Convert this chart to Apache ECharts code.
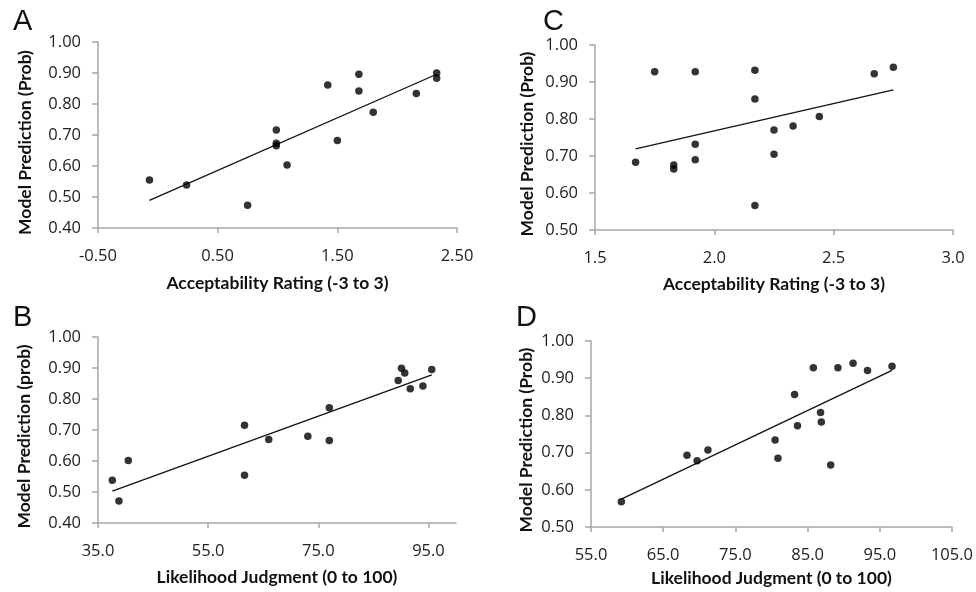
<!DOCTYPE html>
<html><head><meta charset="utf-8">
<script src="https://cdn.jsdelivr.net/npm/echarts@6/dist/echarts.min.js"></script>
<style>html,body{margin:0;padding:0;background:#fff}#c{width:976px;height:592px}</style>
</head><body><div id="c"></div>
<script>
// Panel A: Acceptability rating vs model prediction
const aX = [-0.07, 0.24, 0.75, 0.99, 0.99, 0.99, 1.08, 1.42, 1.50, 1.68, 1.68, 1.80, 2.16, 2.33, 2.33];
const aY = [0.555, 0.539, 0.473, 0.716, 0.673, 0.665, 0.603, 0.861, 0.682, 0.896, 0.842, 0.773, 0.834, 0.900, 0.883];
const aTrendX = [-0.07, 2.33];
const aTrendY = [0.489, 0.896];
const aXTicks = [-0.5, 0.5, 1.5, 2.5];
// Panel B: Likelihood judgment vs model prediction
const bX = [37.6, 38.8, 40.5, 61.6, 61.6, 66.0, 73.1, 77.0, 77.0, 89.5, 90.1, 90.7, 91.7, 94.0, 95.6];
const bY = [0.538, 0.471, 0.602, 0.715, 0.554, 0.669, 0.680, 0.772, 0.666, 0.860, 0.899, 0.884, 0.833, 0.842, 0.895];
const bTrendX = [37.6, 95.6];
const bTrendY = [0.503, 0.878];
const bXTicks = [35, 55, 75, 95];
// Panel C
const cX = [1.67, 1.75, 1.83, 1.83, 1.92, 1.92, 1.92, 2.17, 2.17, 2.17, 2.25, 2.25, 2.33, 2.44, 2.67, 2.75];
const cY = [0.683, 0.928, 0.676, 0.665, 0.928, 0.732, 0.690, 0.932, 0.854, 0.566, 0.770, 0.705, 0.781, 0.807, 0.922, 0.940];
const cTrendX = [1.67, 2.75];
const cTrendY = [0.719, 0.879];
const cXTicks = [1.5, 2.0, 2.5, 3.0];
// Panel D
const dX = [59.2, 68.3, 69.7, 71.2, 80.5, 80.9, 83.2, 83.6, 85.8, 86.8, 86.9, 88.2, 89.2, 91.3, 93.3, 96.7];
const dY = [0.568, 0.693, 0.678, 0.707, 0.734, 0.685, 0.856, 0.772, 0.928, 0.808, 0.782, 0.667, 0.928, 0.940, 0.921, 0.932];
const dTrendX = [59.2, 96.7];
const dTrendY = [0.575, 0.921];
const dXTicks = [55, 65, 75, 85, 95, 105];

const yTicksLow = [0.4, 0.5, 0.6, 0.7, 0.8, 0.9, 1.0];
const yTicksHigh = [0.5, 0.6, 0.7, 0.8, 0.9, 1.0];

const panels = [
  {letter:'A', xs:aX, ys:aY, tx:aTrendX, ty:aTrendY, xt:aXTicks, xmin:-0.5, xmax:2.5, xdec:2, yt:yTicksLow, ymin:0.4,
   xname:'Acceptability Rating (-3 to 3)', yname:'Model Prediction (Prob)',
   grid:{left:98, top:42, width:359, height:186}, yNameX:25, yNameY:142.5, xGap:46, lx:8, ly:2},
  {letter:'C', xs:cX, ys:cY, tx:cTrendX, ty:cTrendY, xt:cXTicks, xmin:1.5, xmax:3.0, xdec:1, yt:yTicksHigh, ymin:0.5,
   xname:'Acceptability Rating (-3 to 3)', yname:'Model Prediction (Prob)',
   grid:{left:595, top:45, width:358, height:185}, yNameX:527.5, yNameY:144, xGap:45, lx:538, ly:2},
  {letter:'B', xs:bX, ys:bY, tx:bTrendX, ty:bTrendY, xt:bXTicks, xmin:35, xmax:100, xdec:1, yt:yTicksLow, ymin:0.4,
   xname:'Likelihood Judgment (0 to 100)', yname:'Model Prediction (prob)',
   grid:{left:98, top:337, width:358, height:186}, yNameX:24.5, yNameY:436.5, xGap:45, lx:8, ly:298},
  {letter:'D', xs:dX, ys:dY, tx:dTrendX, ty:dTrendY, xt:dXTicks, xmin:55, xmax:105, xdec:1, yt:yTicksHigh, ymin:0.5,
   xname:'Likelihood Judgment (0 to 100)', yname:'Model Prediction (Prob)',
   grid:{left:591, top:341, width:361, height:186}, yNameX:526, yNameY:440, xGap:42, lx:511, ly:298}
];

const axisCol = '#a6a6a6';
const labelFont = {fontFamily:'Open Sans', fontSize:16.5, color:'#222'};
const nameFont = {fontFamily:'Lato', fontWeight:'bold', fontSize:17.5, color:'#111'};

const option = {
  animation:false,
  backgroundColor:'#fff',
  title: panels.map(p => ({text:p.letter, left:p.lx, top:p.ly,
     textStyle:{fontFamily:'Liberation Sans', fontWeight:'normal', fontSize:29, color:'#111'}})),
  graphic: panels.map(p => ({
    type:'text', x:p.yNameX, y:p.yNameY, rotation:Math.PI/2, silent:true,
    style:{text:p.yname, fill:'#111', font:'bold 17.5px Lato', align:'center', verticalAlign:'middle'}
  })),
  grid: panels.map(p => p.grid),
  xAxis: panels.map((p,i) => ({
    type:'value', gridIndex:i, min:p.xmin, max:p.xmax,
    name:p.xname, nameLocation:'middle', nameGap:p.xGap, nameTextStyle:nameFont,
    axisLine:{show:true, onZero:false, lineStyle:{color:axisCol, width:1.5}},
    axisTick:{show:true, length:5, customValues:p.xt, lineStyle:{color:axisCol, width:1.5}},
    axisLabel:Object.assign({margin:20, customValues:p.xt, formatter:v=>v.toFixed(p.xdec)}, labelFont),
    splitLine:{show:false}
  })),
  yAxis: panels.map((p,i) => ({
    type:'value', gridIndex:i, min:p.ymin, max:1.0,
    axisLine:{show:true, onZero:false, lineStyle:{color:axisCol, width:1.5}},
    axisTick:{show:true, length:6, customValues:p.yt, lineStyle:{color:axisCol, width:1.5}},
    axisLabel:Object.assign({margin:17, customValues:p.yt, formatter:v=>v.toFixed(2)}, labelFont),
    splitLine:{show:false}
  })),
  series: panels.flatMap((p,i) => [
    {type:'line', xAxisIndex:i, yAxisIndex:i, data:p.tx.map((x,k)=>[x,p.ty[k]]),
     showSymbol:false, symbol:'none', lineStyle:{color:'#111', width:1.3}, z:2},
    {type:'scatter', xAxisIndex:i, yAxisIndex:i, data:p.xs.map((x,k)=>[x,p.ys[k]]),
     symbol:'circle', symbolSize:7.5, itemStyle:{color:'#000'}, z:3}
  ])
};
const chart = echarts.init(document.getElementById('c'), null, {renderer:'canvas'});
chart.setOption(option);
</script>
</body></html>
